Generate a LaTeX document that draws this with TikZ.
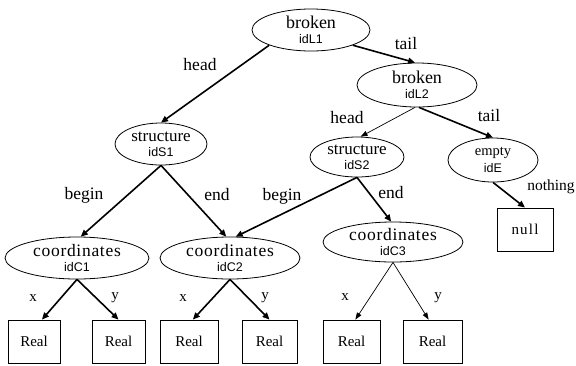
\documentclass[tikz,border=0pt]{standalone}
\usepackage{fontspec}
\setmainfont{Liberation Serif}
\newfontfamily\idfont{Liberation Sans}
\usetikzlibrary{shapes.geometric,arrows.meta}
\newcommand{\ellt}[3]{\fontsize{#1}{19}\selectfont #2\\[3pt]{\idfont\fontsize{12.5}{15}\selectfont #3}}
\begin{document}
\begin{tikzpicture}[x=1pt,y=-1pt,
  ell/.style={ellipse, draw, line width=0.8pt, inner xsep=0pt, inner ysep=-10pt, align=center},
  realbox/.style={rectangle, draw, line width=0.8pt, minimum width=55pt, minimum height=43pt, inner sep=0pt, font=\fontsize{15}{15}\selectfont},
  lbl/.style={inner sep=0pt, font=\fontsize{17.5}{18}\selectfont},
  xylbl/.style={inner sep=0pt, font=\fontsize{15}{16}\selectfont},
  thk/.style={line width=1.6pt, -{Triangle[length=7pt,width=6pt]}},
  thn/.style={line width=0.7pt, -{Triangle[length=7pt,width=5pt]}}]
\useasboundingbox (0,0) rectangle (576,365);
% ellipses
\node[ell, minimum width=118pt, minimum height=42pt] (l1) at (311,30) {\ellt{18}{broken}{idL1}};
\node[ell, minimum width=120pt, minimum height=44pt] (l2) at (417,85) {\ellt{18}{broken}{idL2}};
\node[ell, minimum width=92pt, minimum height=42pt] (s1) at (161,144) {\ellt{17}{structure}{idS1}};
\node[ell, minimum width=94pt, minimum height=40pt] (s2) at (357,157) {\ellt{17}{structure}{idS2}};
\node[ell, minimum width=90pt, minimum height=44pt] (e) at (493,160) {\ellt{14.5}{empty}{idE}};
\node[ell, minimum width=144pt, minimum height=42pt] (c1) at (77,258) {\addfontfeature{LetterSpace=4}\ellt{17.5}{coordinates}{idC1}};
\node[ell, minimum width=140pt, minimum height=42pt] (c2) at (230,258) {\addfontfeature{LetterSpace=4}\ellt{17.5}{coordinates}{idC2}};
\node[ell, minimum width=140pt, minimum height=40pt] (c3) at (393,242) {\addfontfeature{LetterSpace=4}\ellt{17.5}{coordinates}{idC3}};
% boxes
\node[realbox, minimum width=56pt] (nl) at (525,229.5) {\addfontfeature{LetterSpace=8}null};
\node[realbox, minimum width=52pt] (r1) at (34,341.5) {Real};
\node[realbox, minimum width=53pt] (r2) at (118.5,341.5) {Real};
\node[realbox, minimum width=58pt] (r3) at (189,341.5) {Real};
\node[realbox, minimum width=55pt] (r4) at (269.5,341.5) {Real};
\node[realbox, minimum width=57pt] (r5) at (351.5,341.5) {Real};
\node[realbox, minimum width=59pt] (r6) at (432.5,341.5) {Real};
% edges
\draw[thk] (l1.200) -- (s1.north);
\draw[thk] (l1.340) -- (l2.95);
\draw[thn] (l2.265) -- (s2.80);
\draw[thk] (l2.275) -- (e.north);
\draw[thk] (e.south) -- (nl.north);
\draw[thk] (s1.south) -- (c1.80);
\draw[thk] (s1.south) -- (c2.100);
\draw[thk] (s2.south) -- (c2.75);
\draw[thk] (s2.south) -- (c3.95);
\draw[thk] (c1.south) -- (r1.70);
\draw[thk] (c1.south) -- (r2.north);
\draw[thk] (c2.south) -- (r3.80);
\draw[thk] (c2.south) -- (r4.north);
\draw[thn] (c3.south) -- (r5.80);
\draw[thn] (c3.south) -- (r6.100);
% edge labels
\node[lbl] (t1) at (200,65) {head};
\node[lbl] (t2) at (406,44) {tail};
\node[lbl] (t3) at (347,118) {head};
\node[lbl] (t4) at (489,116) {tail};
\node[lbl] (t5) at (84,195) {begin};
\node[lbl] (t6) at (217,195) {end};
\node[lbl] (t7) at (282,196) {begin};
\node[lbl] (t8) at (391,193) {end};
\node[lbl, font=\fontsize{15.5}{16}\selectfont] (t9) at (551,187) {nothing};
\node[xylbl] (x1) at (33,298) {x};
\node[xylbl] (y1) at (115,298) {y};
\node[xylbl] (x2) at (183,298) {x};
\node[xylbl] (y2) at (265,298) {y};
\node[xylbl] (x3) at (345,297) {x};
\node[xylbl] (y3) at (438,298) {y};
\end{tikzpicture}
\end{document}
